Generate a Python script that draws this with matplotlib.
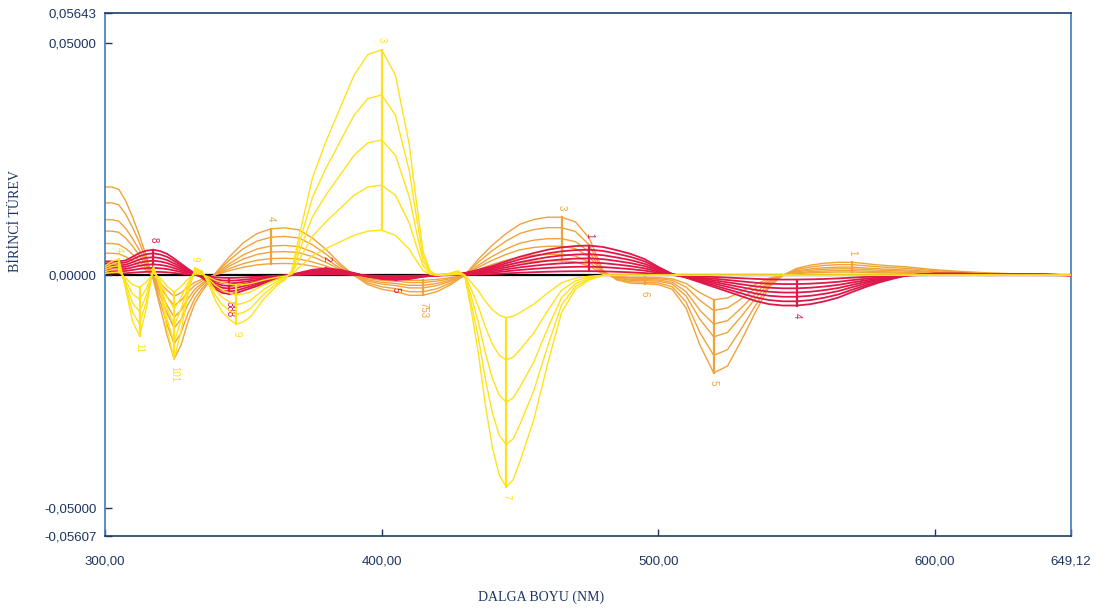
import matplotlib
matplotlib.use("Agg")
import matplotlib.pyplot as plt
import numpy as np

# first derivative spectra, three groups of solutions
# values are the largest curve of each group (x 1e-3), the others are scaled by the factors

yellow_nm = [300, 302.5, 305, 307.5, 310, 312.5, 315, 317.5, 320, 322.5,
             325, 327.5, 330, 332.5, 335, 337.5, 340, 342.5, 345, 347.5,
             350, 352.5, 355, 357.5, 360, 362.5, 365, 367.5, 370, 375,
             380, 385, 390, 395, 400, 405, 410, 412.5, 415, 417.5,
             420, 425, 427.5, 430, 432.5, 435, 437.5, 440, 442.5, 445,
             447.5, 450, 455, 460, 465, 470, 475, 480, 490, 500,
             520, 560, 600, 650]
yellow_max = [2, 3, 3.5, -3, -10, -13, -7, 2, -3, -12,
              -18, -12, -4, 1.5, 1, -2, -5.5, -8, -9.5, -10.5,
              -10, -9, -7, -5, -3.5, -2, -1, 1, 8, 21,
              29, 36, 43, 47.5, 48.5, 43, 28, 16, 5, 1,
              0, 0.5, 1, 0, -8, -17, -28, -37, -43, -45.5,
              -44, -40, -31, -19, -8, -3, -1, 0, 0, 0,
              0, 0, 0, 0]
yellow_factors = [0.2, 0.4, 0.6, 0.8, 1.0]

orange_nm = [300, 302.5, 305, 307.5, 310, 312.5, 315, 317.5, 320, 322.5,
             325, 327.5, 330, 332.5, 335, 337.5, 340,
             345, 350, 355, 360, 365, 370, 375, 380, 385, 390,
             395, 400, 405, 410, 415, 420, 425, 430,
             435, 440, 445, 450, 455, 460, 465, 470, 475, 480,
             485, 490, 495, 500, 505, 510, 515, 520, 525, 530,
             535, 540, 545, 550, 555, 560, 565, 570, 575, 580,
             590, 600, 610, 620, 630, 640, 650]
orange_max = [19, 19, 18.5, 16, 12.5, 8.5, 4, -1, -7, -13,
              -18, -15, -10, -6, -3.5, -1.5, 0.5,
              4, 7, 9, 10, 10.2, 9.8, 8, 5.5, 2.5, 0,
              -2, -3, -3.5, -4.3, -4.3, -3.5, -2, 0,
              3.5, 6.5, 9, 11, 12, 12.5, 12.5, 11.5, 8, 1,
              -1, -1.7, -1.8, -2, -3, -7, -15, -21, -19.5, -14,
              -8, -2.5, 0, 1.5, 2.2, 2.6, 2.8, 2.8, 2.5, 2.2,
              1.8, 1.2, 0.8, 0.5, 0.3, 0.2, 0]
orange_factors = [0.25, 0.36, 0.5, 0.63, 0.82, 1.0]

red_nm = [300, 305, 307.5, 310, 312.5, 315, 317.5, 320, 322.5, 325,
          327.5, 330, 332.5, 335, 337.5, 340, 342.5, 345, 347.5, 350,
          355, 360, 365, 370, 375, 380, 385, 390, 395, 400,
          405, 410, 415, 420, 425, 430, 435, 440, 445, 450,
          455, 460, 465, 470, 475, 480, 485, 490, 495, 500,
          505, 510, 515, 520, 525, 530, 535, 540, 545, 550,
          555, 560, 565, 570, 575, 580, 585, 590,
          600, 610, 620, 630, 640, 650]
red_max = [3, 3, 3.2, 4, 4.8, 5.3, 5.5, 5.2, 4.6, 3.6,
           2.5, 1.4, 0.4, -0.5, -1.5, -3, -3.8, -4, -3.8, -3.3,
           -2.3, -1.2, -0.2, 0.5, 1.2, 1.5, 1.2, 0.5, -0.3, -0.8,
           -1, -0.8, -0.3, 0, 0.2, 0.5, 1.2, 2, 3, 4,
           4.8, 5.5, 6, 6.3, 6.4, 6.1, 5.4, 4.6, 3.5, 1.8,
           0.3, -0.5, -1.5, -2.5, -3.5, -4.5, -5.5, -6.2, -6.5, -6.5,
           -6.2, -5.6, -4.8, -3.6, -2.5, -1.5, -0.7, 0,
           0.4, 0.4, 0.2, 0.3, 0.2, 0]
red_factors = [0.14, 0.29, 0.43, 0.57, 0.71, 0.86, 1.0]

# peak picks (wavelength, label) for each group
yellow_peaks = [(305, "4"), (312.5, "11"), (325, "101"), (332.5, "9"),
                (347.5, "9"), (400, "3"), (445, "7")]
orange_peaks = [(360, "4"), (415, "753"), (465, "3"), (495, "6"),
                (520, "5"), (570, "1")]
red_peaks = [(317.5, "8"), (345, "888"), (380, "2"), (405, "5"),
             (475, "1"), (550, "4")]

x_ticks = [300, 400, 500, 600, 649.12]
y_ticks = [-0.05607, -0.05, 0.0, 0.05, 0.05643]

YELLOW = "#ffe21c"
ORANGE = "#f0a33c"
RED = "#e0184a"
NAVY = "#1d3560"

plt.rcParams["font.family"] = ["Liberation Sans", "DejaVu Sans"]

fig = plt.figure(figsize=(10.98, 6.15), dpi=100)
ax = fig.add_axes([0.0956, 0.1285, 0.8798, 0.8504])

ax.axhline(0, color="black", lw=1.6, zorder=1)

groups = [
    (orange_nm, orange_max, orange_factors, ORANGE, 1.0, orange_peaks, 2),
    (red_nm, red_max, red_factors, RED, 1.3, red_peaks, 3),
    (yellow_nm, yellow_max, yellow_factors, YELLOW, 1.0, yellow_peaks, 4),
]

for nm, vmax, factors, col, lw, peaks, z in groups:
    nm = np.array(nm)
    vmax = np.array(vmax) * 1e-3
    for f in factors:
        ax.plot(nm, vmax * f, color=col, lw=lw, zorder=z)
    # vertical peak markers through the series with a small label
    for p_nm, lab in peaks:
        top = np.interp(p_nm, nm, vmax)
        lo = top * factors[0]
        ax.plot([p_nm, p_nm], [lo, top], color=col, lw=1.6, zorder=z + 0.5)
        sign = 1 if top >= 0 else -1
        ax.text(p_nm, top + sign * 0.0015, lab, color=col, fontsize=7,
                rotation=270, ha="center", va="bottom" if sign > 0 else "top",
                zorder=z + 0.5)

ax.set_xlim(300, 649.12)
ax.set_ylim(-0.05607, 0.05643)

ax.set_xticks(x_ticks)
ax.set_xticklabels([f"{v:.2f}".replace(".", ",") for v in x_ticks])
ax.set_yticks(y_ticks)
ax.set_yticklabels([f"{v:.5f}".replace(".", ",") for v in y_ticks])
ax.tick_params(direction="in", length=5, width=1, colors=NAVY,
               labelsize=9.5, pad=6)
ax.tick_params(axis="x", pad=14)

for side in ["top", "bottom"]:
    ax.spines[side].set_color("#1e3f66")
for side in ["left", "right"]:
    ax.spines[side].set_color("#3a7cbd")
for s in ax.spines.values():
    s.set_linewidth(1.2)

fig.text(0.0137, 0.64, "BİRİNCİ TÜREV", rotation=90, ha="center", va="center",
         fontsize=10, color=NAVY, family=["Liberation Serif", "DejaVu Serif"])
fig.text(0.493, 0.029, "DALGA BOYU (NM)", ha="center", va="center",
         fontsize=10, color=NAVY, family=["Liberation Serif", "DejaVu Serif"])

fig.savefig("out.png", dpi=100)
